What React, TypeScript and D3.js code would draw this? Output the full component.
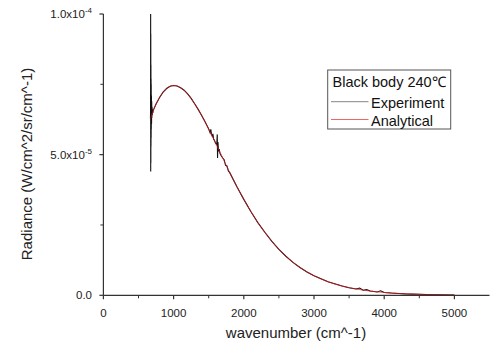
import React from 'react';
import * as d3 from 'd3';

// radiance values in units of 1e-5 W/cm^2/sr/cm^-1
const anaWavenumber = [670, 700, 800, 900, 1000, 1100, 1200, 1300, 1400, 1500, 1600, 1700, 1800, 1900, 2000,
  2200, 2400, 2600, 2800, 3000, 3200, 3400, 3600, 3800, 4000, 4200, 4400, 4600, 4800, 5000];
const anaRadiance = [6.27, 6.49, 7.03, 7.35, 7.46, 7.38, 7.16, 6.81, 6.39, 5.91, 5.40, 4.88, 4.36, 3.87, 3.41,
  2.585, 1.914, 1.388, 0.989, 0.695, 0.481, 0.329, 0.223, 0.150, 0.100, 0.066, 0.043, 0.028, 0.018, 0.012];

const expWavenumber = [670, 672, 673, 674, 675, 676, 677, 678, 679, 680, 681, 682, 684, 686, 688, 690, 693, 696,
  700, 705, 710, 720, 750, 800, 850, 900, 950, 1000, 1050, 1100, 1150, 1200, 1250, 1300, 1350, 1400, 1450,
  1500, 1520, 1530, 1540, 1550, 1560, 1570, 1580, 1600, 1615, 1622, 1626, 1632, 1640, 1650, 1660, 1680, 1700,
  1720, 1740, 1760, 1780, 1800, 1900, 2000, 2100, 2200, 2300, 2400, 2500, 2600, 2700, 2800, 2900, 3000, 3200,
  3400, 3500, 3600, 3650, 3700, 3750, 3800, 3900, 3950, 4000, 4100, 4200, 4300, 4400, 4500, 4600, 4800, 5000];
const expRadiance = [6.27, 6.5, 10.0, 4.4, 9.3, 4.7, 8.2, 5.3, 7.7, 5.6, 7.5, 5.9, 7.1, 6.1, 6.9, 6.3, 6.7, 6.4,
  6.55, 6.48, 6.6, 6.63, 6.8, 7.03, 7.22, 7.35, 7.43, 7.46, 7.44, 7.38, 7.29, 7.16, 7.0, 6.81, 6.61, 6.39, 6.16,
  5.91, 5.78, 5.9, 5.72, 5.66, 5.74, 5.55, 5.52, 5.40, 5.36, 5.72, 4.88, 5.45, 5.12, 5.2, 5.05, 4.95, 4.88,
  4.82, 4.62, 4.6, 4.42, 4.36, 3.87, 3.41, 2.98, 2.585, 2.24, 1.914, 1.63, 1.388, 1.17, 0.99, 0.83, 0.695, 0.48,
  0.33, 0.27, 0.223, 0.26, 0.18, 0.2, 0.15, 0.12, 0.16, 0.10, 0.08, 0.066, 0.05, 0.043, 0.035, 0.028, 0.018, 0.012];

const xTicks = [0, 1000, 2000, 3000, 4000, 5000];
const xMinorTicks = [500, 1500, 2500, 3500, 4500];
const yTicks = [0, 5, 10];
const yTickMain = ['0.0', '5.0x10', '1.0x10'];
const yTickExp = ['', '-5', '-4'];
const yMinorTicks = [2.5, 7.5];

const width = 491;
const height = 343;
const margin = { left: 103.4, right: 1.5, top: 14, bottom: 47.7 };
const font = 'Liberation Sans, Arial, sans-serif';

export default function App() {
  const x = d3.scaleLinear().domain([0, 5500]).range([margin.left, width - margin.right]);
  const y = d3.scaleLinear().domain([0, 10]).range([height - margin.bottom, margin.top]);

  const expPts: [number, number][] = expWavenumber.map((w, i) => [w, expRadiance[i]]);
  const anaPts: [number, number][] = anaWavenumber.map((w, i) => [w, anaRadiance[i]]);

  const expLine = d3.line<[number, number]>().x(d => x(d[0])).y(d => y(d[1]));
  const anaLine = d3.line<[number, number]>().x(d => x(d[0])).y(d => y(d[1])).curve(d3.curveMonotoneX);

  const y0 = y(0);
  const axisColor = '#333';

  return (
    <svg width={width} height={height} style={{ position: 'absolute', left: 0, top: 0 }} fontFamily={font}>
      <rect width={width} height={height} fill="#fff" />

      {/* data */}
      <path d={expLine(expPts) ?? ''} fill="none" stroke="#111" strokeWidth={1.1} />
      <path d={anaLine(anaPts) ?? ''} fill="none" stroke="#e8141c" strokeWidth={0.7} />

      {/* x axis */}
      <line x1={x(0)} x2={x(5500)} y1={y0} y2={y0} stroke={axisColor} strokeWidth={1.2} />
      {xTicks.map(t => (
        <g key={t}>
          <line x1={x(t)} x2={x(t)} y1={y0} y2={y0 + 4} stroke={axisColor} strokeWidth={1.2} />
          <text x={x(t)} y={317} textAnchor="middle" fontSize={11.5} fill="#222">{t}</text>
        </g>
      ))}
      {xMinorTicks.map(t => (
        <line key={t} x1={x(t)} x2={x(t)} y1={y0} y2={y0 + 3} stroke={axisColor} strokeWidth={1} />
      ))}
      <text x={296} y={338} textAnchor="middle" fontSize={15} fill="#222">wavenumber (cm^-1)</text>

      {/* y axis */}
      <line x1={x(0)} x2={x(0)} y1={y(0)} y2={y(10)} stroke={axisColor} strokeWidth={1.2} />
      {yTicks.map((t, i) => (
        <g key={t}>
          <line x1={x(0) - 4} x2={x(0)} y1={y(t)} y2={y(t)} stroke={axisColor} strokeWidth={1.2} />
          <text x={92} y={y(t) + 4} textAnchor="end" fontSize={11.5} fill="#222">
            {yTickMain[i]}
            {yTickExp[i] && <tspan dy={-5} fontSize={8}>{yTickExp[i]}</tspan>}
          </text>
        </g>
      ))}
      {yMinorTicks.map(t => (
        <line key={t} x1={x(0) - 3} x2={x(0)} y1={y(t)} y2={y(t)} stroke={axisColor} strokeWidth={1} />
      ))}
      <text transform="translate(26,164) rotate(-90)" textAnchor="middle" dominantBaseline="central"
        fontSize={15} fill="#222">Radiance (W/cm^2/sr/cm^-1)</text>

      {/* legend */}
      <rect x={327.7} y={70} width={123} height={59} fill="#fff" stroke="#555" strokeWidth={1} />
      <text x={332.5} y={87} fontSize={14.5} fill="#111">Black body 240℃</text>
      <line x1={331} x2={368.5} y1={101.7} y2={101.7} stroke="#666" strokeWidth={0.8} />
      <text x={371} y={107.5} fontSize={14.5} fill="#111">Experiment</text>
      <line x1={331} x2={368.5} y1={119.5} y2={119.5} stroke="#f03c3c" strokeWidth={0.8} />
      <text x={371} y={125.5} fontSize={14.5} fill="#111">Analytical</text>
    </svg>
  );
}
